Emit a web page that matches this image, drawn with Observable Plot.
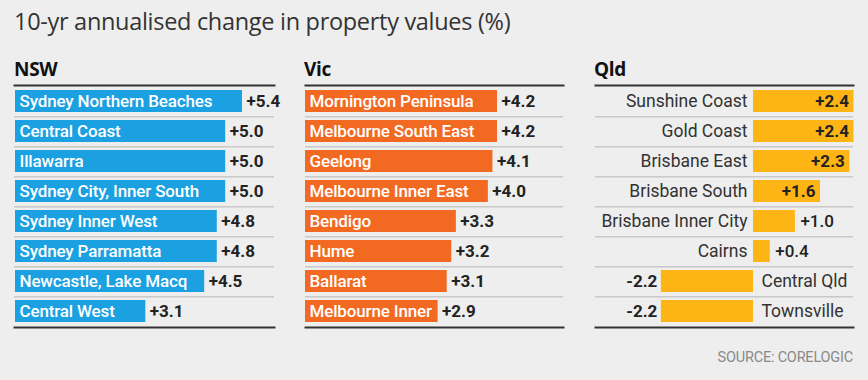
<!DOCTYPE html>
<html>
<head>
<meta charset="utf-8">
<script src="https://cdn.jsdelivr.net/npm/d3@7"></script>
<script src="https://cdn.jsdelivr.net/npm/@observablehq/plot@0.6"></script>
<style>
  html, body { margin: 0; padding: 0; background: #edeeed; }
  #chart { position: relative; width: 868px; height: 380px; background: #edeeed; font-family: "Open Sans", sans-serif; overflow: hidden; }
  .title { position: absolute; left: 14px; top: 5px; font-size: 23.5px; color: #333; font-weight: 400; letter-spacing: -0.3px; white-space: nowrap; }
  .head { position: absolute; top: 56px; font-size: 19px; font-weight: 700; color: #111; letter-spacing: -0.3px; }
  .panel { position: absolute; top: 80px; }
  .source { position: absolute; right: 15px; top: 349px; font-family: Roboto, sans-serif; font-size: 14.5px; color: #8a8a8a; letter-spacing: -0.2px; }
  .barlabel { letter-spacing: -0.15px; }
</style>
</head>
<body>
<div id="chart">
  <div class="title">10-yr annualised change in property values (%)</div>
  <div class="head" style="left:14px">NSW</div>
  <div class="head" style="left:304px">Vic</div>
  <div class="head" style="left:594px">Qld</div>
  <div class="source">SOURCE: CORELOGIC</div>
</div>
<script>
// ---- data ----
const nswRegions = ["Sydney Northern Beaches", "Central Coast", "Illawarra", "Sydney City, Inner South", "Sydney Inner West", "Sydney Parramatta", "Newcastle, Lake Macq", "Central West"];
const nswValues = [5.4, 5.0, 5.0, 5.0, 4.8, 4.8, 4.5, 3.1];

const vicRegions = ["Mornington Peninsula", "Melbourne South East", "Geelong", "Melbourne Inner East", "Bendigo", "Hume", "Ballarat", "Melbourne Inner"];
const vicValues = [4.2, 4.2, 4.1, 4.0, 3.3, 3.2, 3.1, 2.9];

const qldRegions = ["Sunshine Coast", "Gold Coast", "Brisbane East", "Brisbane South", "Brisbane Inner City", "Cairns", "Central Qld", "Townsville"];
const qldValues = [2.4, 2.4, 2.3, 1.6, 1.0, 0.4, -2.2, -2.2];

const colors = { NSW: "#1ba1e1", Vic: "#f26a21", Qld: "#fdb515" };

const fmt = v => (v > 0 ? "+" : "") + v.toFixed(1);

const H = 252, MT = 5, MB = 5;
const step = (H - MT - MB) / 8;
const FONT = "Roboto, sans-serif";

function basePanel(regions, values, width, xDomain, xRange, color, extraMarks) {
  const data = regions.map((r, i) => ({ region: r, value: values[i] }));
  return Plot.plot({
    width, height: H,
    marginTop: MT, marginBottom: MB, marginLeft: 0, marginRight: 0,
    style: { background: "transparent", fontFamily: FONT, overflow: "visible" },
    x: { domain: xDomain, range: xRange, axis: null },
    y: { domain: regions, axis: null, paddingInner: 0.28, paddingOuter: 0.14, align: 0.5 },
    marks: [
      Plot.ruleY(regions.slice(0, -1), { y: d => d, dy: step / 2, stroke: "#c8c8c8", strokeWidth: 1.5 }),
      Plot.frame({ anchor: "top", stroke: "#333", strokeWidth: 2 }),
      Plot.frame({ anchor: "bottom", stroke: "#333", strokeWidth: 2 }),
      Plot.barX(data, { x1: 0, x2: "value", y: "region", fill: color }),
      ...extraMarks(data)
    ]
  });
}

function leftLabelPanel(regions, values, width, xDomain, xRange, color) {
  return basePanel(regions, values, width, xDomain, xRange, color, data => [
    Plot.text(data, { x: 0, y: "region", text: "region", textAnchor: "start", dx: 4, fill: "white", fontSize: 17, fontWeight: 500, className: "barlabel" }),
    Plot.text(data, { x: "value", y: "region", text: d => fmt(d.value), textAnchor: "start", dx: 4, fill: "#222", fontSize: 17, fontWeight: 700 })
  ]);
}

const chart = document.getElementById("chart");
function place(svg, left) {
  const wrap = document.createElement("div");
  wrap.className = "panel";
  wrap.style.left = left + "px";
  wrap.appendChild(svg);
  chart.appendChild(wrap);
}

// NSW: 42 px per point
place(leftLabelPanel(nswRegions, nswValues, 260, [0, 5.4], [1, 228], colors.NSW), 14);
// Vic: ~45.7 px per point
place(leftLabelPanel(vicRegions, vicValues, 258, [0, 4.2], [0, 192], colors.Vic), 305);

// Qld: diverging around zero
const qld = basePanel(qldRegions, qldValues, 258, [0, 2.4], [158, 258.5], colors.Qld, data => {
  const pos = data.filter(d => d.value >= 0);
  const neg = data.filter(d => d.value < 0);
  const inside = pos.filter(d => d.value >= 1.5);
  const outside = pos.filter(d => d.value < 1.5);
  return [
    Plot.text(pos, { x: 0, y: "region", text: "region", textAnchor: "end", dx: -6, fill: "#333", fontSize: 17.5, fontWeight: 400 }),
    Plot.text(neg, { x: 0, y: "region", text: "region", textAnchor: "start", dx: 8, fill: "#333", fontSize: 17.5, fontWeight: 400 }),
    Plot.text(inside, { x: "value", y: "region", text: d => fmt(d.value), textAnchor: "end", dx: -5, fill: "#222", fontSize: 17, fontWeight: 700 }),
    Plot.text(outside, { x: "value", y: "region", text: d => fmt(d.value), textAnchor: "start", dx: 5, fill: "#222", fontSize: 17, fontWeight: 500 }),
    Plot.text(neg, { x: "value", y: "region", text: d => fmt(d.value), textAnchor: "end", dx: -4, fill: "#222", fontSize: 17, fontWeight: 700 })
  ];
});
place(qld, 595);
</script>
</body>
</html>
